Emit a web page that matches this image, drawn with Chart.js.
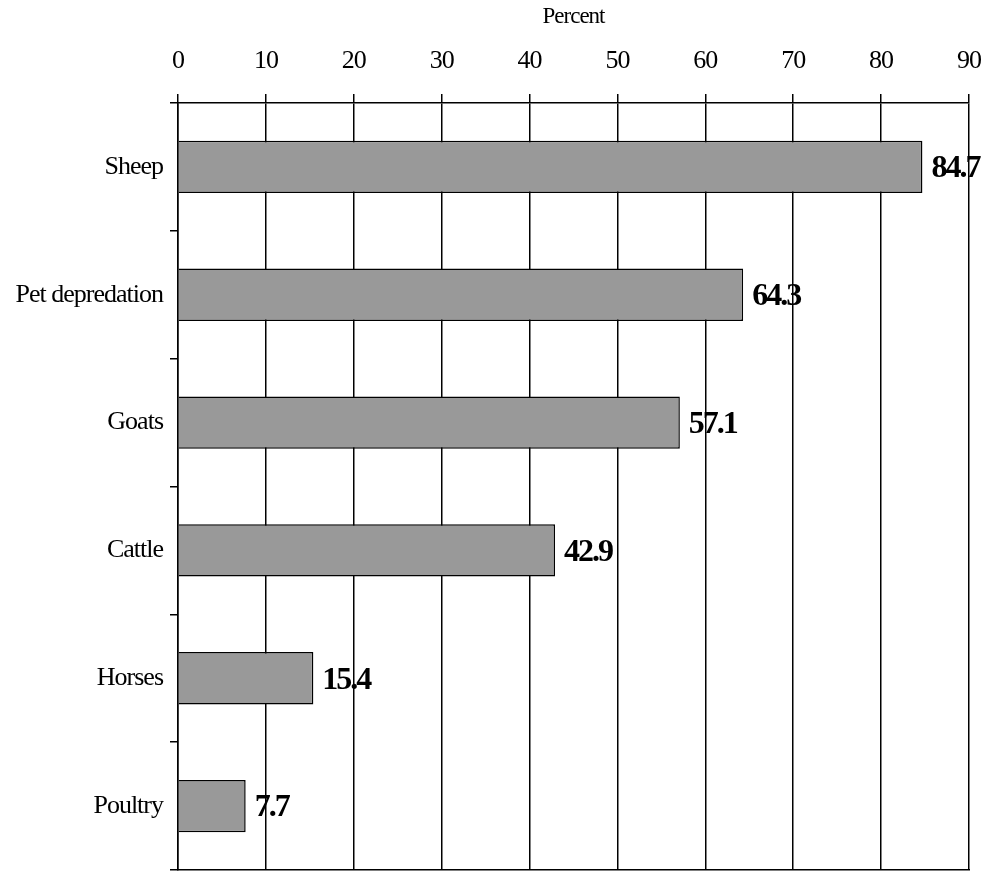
<!DOCTYPE html>
<html>
<head>
<meta charset="utf-8">
<script src="https://cdn.jsdelivr.net/npm/chart.js@4.4.1/dist/chart.umd.min.js"></script>
<style>
  html, body { margin: 0; padding: 0; background: #fff; }
  #wrap { width: 989px; height: 871px; }
</style>
</head>
<body>
<div id="wrap"><canvas id="depredationChart"></canvas></div>
<script>
// categories and percentages
const categories = ["Sheep", "Pet depredation", "Goats", "Cattle", "Horses", "Poultry"];
const percents = [84.7, 64.3, 57.1, 42.9, 15.4, 7.7];
const valueLabels = ["84.7", "64.3", "57.1", "42.9", "15.4", "7.7"];
const axisTicks = [0, 10, 20, 30, 40, 50, 60, 70, 80, 90];

const serif = '"Liberation Serif", "Times New Roman", serif';

// draws the bold numbers at the end of each bar
const valueLabelPlugin = {
    id: "valueLabels",
    afterDatasetsDraw(chart) {
        const ctx = chart.ctx;
        const meta = chart.getDatasetMeta(0);
        ctx.save();
        ctx.font = "bold 32px " + serif;
        ctx.fillStyle = "#000";
        ctx.textAlign = "left";
        ctx.textBaseline = "middle";
        ctx.letterSpacing = "-2px";
        meta.data.forEach(function (bar, i) {
            ctx.fillText(valueLabels[i], bar.x + 9, bar.y + 2);
        });
        ctx.restore();
    }
};

const condensedText = {
    id: "condensedText",
    beforeDraw(chart) {
        chart.ctx.letterSpacing = "-1px";
    }
};

new Chart("depredationChart", {
    type: "bar",
    data: {
        labels: categories,
        datasets: [{
            data: percents,
            backgroundColor: "#999999",
            borderColor: "#000",
            borderWidth: 1.5,
            borderSkipped: "start",
            categoryPercentage: 1,
            barPercentage: 0.41
        }]
    },
    options: {
        indexAxis: "y",
        responsive: true,
        maintainAspectRatio: false,
        animation: false,
        layout: { padding: { left: 0, right: 20, top: 0, bottom: 1 } },
        plugins: {
            legend: { display: false },
            tooltip: { enabled: false }
        },
        scales: {
            x: {
                position: "top",
                min: 0,
                max: 90,
                afterBuildTicks(scale) {
                    scale.ticks = axisTicks.map(v => ({ value: v }));
                },
                afterFit(scale) {
                    scale.height = 103;
                    scale.paddingLeft = 0;
                    scale.paddingRight = 0;
                },
                grid: { color: "#000", lineWidth: 1.5, tickLength: 9 },
                border: { display: true, color: "#000", width: 1.5 },
                ticks: {
                    color: "#000",
                    padding: 17,
                    maxRotation: 0,
                    font: { family: serif, size: 26 }
                },
                title: {
                    display: true,
                    text: "Percent",
                    color: "#000",
                    padding: { top: 3, bottom: 0 },
                    font: { family: serif, size: 23 }
                }
            },
            xBottom: {
                type: "linear",
                position: "bottom",
                min: 0,
                max: 90,
                afterFit(scale) {
                    scale.height = 0;
                    scale.paddingLeft = 0;
                    scale.paddingRight = 0;
                },
                grid: { display: false },
                ticks: { display: false },
                border: { display: true, color: "#000", width: 1.5 }
            },
            y: {
                afterFit(scale) {
                    scale.width = 178;
                    scale.paddingTop = 0;
                    scale.paddingBottom = 0;
                },
                grid: {
                    offset: true,
                    drawOnChartArea: false,
                    color: "#000",
                    lineWidth: 1.5,
                    tickLength: 8
                },
                border: { display: true, color: "#000", width: 1.5 },
                ticks: {
                    color: "#000",
                    padding: 7,
                    font: { family: serif, size: 26 }
                }
            }
        }
    },
    plugins: [condensedText, valueLabelPlugin]
});
</script>
</body>
</html>
